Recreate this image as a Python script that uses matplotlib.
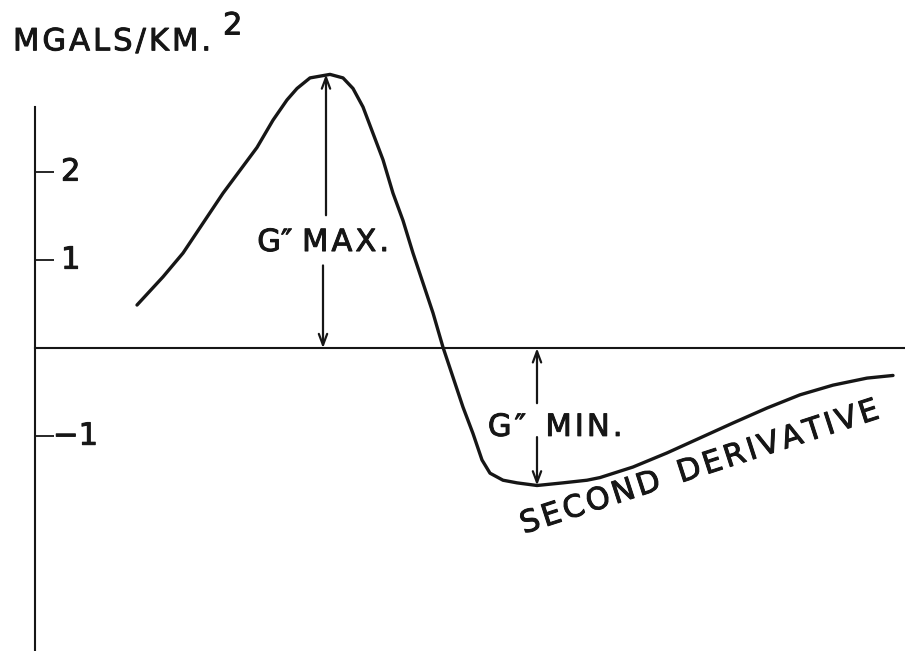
import numpy as np
import matplotlib.pyplot as plt
import matplotlib.patheffects as pe

# distance along the profile (arbitrary units) and second derivative (mgals/km^2)
dist = [1.02, 1.28, 1.48, 1.68, 1.88, 2.05, 2.22, 2.38, 2.52, 2.62, 2.75, 2.95,
        3.08, 3.18, 3.28, 3.38, 3.48, 3.58, 3.68, 3.78, 3.88, 3.98, 4.08, 4.18,
        4.28, 4.38, 4.47, 4.55, 4.68, 4.82, 5.02, 5.28, 5.52, 5.65, 5.98, 6.32,
        6.65, 6.98, 7.32, 7.65, 7.98, 8.32, 8.58]
g2 = [0.49, 0.81, 1.08, 1.42, 1.76, 2.02, 2.28, 2.59, 2.82, 2.95, 3.07, 3.11,
      3.07, 2.95, 2.74, 2.44, 2.14, 1.76, 1.45, 1.08, 0.74, 0.40, 0.01, -0.33,
      -0.67, -0.97, -1.27, -1.42, -1.50, -1.53, -1.56, -1.53, -1.50, -1.47, -1.35, -1.19,
      -1.02, -0.85, -0.68, -0.53, -0.42, -0.34, -0.31]

tick_vals = [2, 1, -1]
tick_text = ['2', '1', '\u22121']

ink = '#161616'
# slightly thickened strokes, like pen lettering
lettering = dict(fontsize=22, color=ink, family='DejaVu Sans',
                 path_effects=[pe.withStroke(linewidth=0.7, foreground=ink)])


def spaced(s, gap='\u200a'):
    # open up the letters a little, like hand lettering
    return '  '.join(gap.join(w) for w in s.split(' '))


fig = plt.figure(figsize=(9.05, 6.51), dpi=100)
ax = fig.add_axes([0, 0, 1, 1])
ax.set_xlim(-0.35, 8.70)
ax.set_ylim(-3.44, 3.955)

# axes drawn through the origin
for side in ['top', 'right']:
    ax.spines[side].set_visible(False)
ax.spines['left'].set_position(('data', 0))
ax.spines['left'].set_bounds(-3.44, 2.74)
ax.spines['bottom'].set_position(('data', 0))
ax.spines['bottom'].set_bounds(0, 8.70)
for side in ['left', 'bottom']:
    ax.spines[side].set_linewidth(1.5)
    ax.spines[side].set_color(ink)

ax.set_xticks([])
ax.set_yticks(tick_vals)
ax.tick_params(axis='y', direction='in', length=14, width=1.3, color=ink, labelleft=False)
for v, t in zip(tick_vals, tick_text):
    ax.text(0.18 if v < 0 else 0.26, v, t, ha='left', va='center', **lettering)

# the curve
ax.plot(dist, g2, color=ink, lw=2.4, solid_capstyle='round', solid_joinstyle='round')

# units label
ax.text(-0.22, 3.48, spaced('MGALS/KM.'), ha='left', va='center', **lettering)
ax.text(1.88, 3.66, '2', ha='left', va='center', **lettering)

arrow = dict(arrowstyle='->,head_length=0.8,head_width=0.3', lw=1.6, color=ink,
             shrinkA=0, shrinkB=0)

# G'' max arrows
i_max = int(np.argmax(g2))
x_max = dist[i_max] - 0.04
ax.annotate('', xy=(x_max, g2[i_max]), xytext=(x_max, 1.51), arrowprops=arrow)
ax.annotate('', xy=(x_max - 0.03, 0), xytext=(x_max - 0.03, 0.94), arrowprops=arrow)
ax.text(2.88, 1.20, 'G\u2033 ' + spaced('MAX.'), ha='center', va='center', **lettering)

# G'' min arrows
i_min = int(np.argmin(g2))
x_min = dist[i_min]
ax.annotate('', xy=(x_min, 0), xytext=(x_min, -0.625), arrowprops=arrow)
ax.annotate('', xy=(x_min, g2[i_min]), xytext=(x_min, -1.01), arrowprops=arrow)
ax.text(5.20, -0.90, spaced('G\u2033 MIN.'), ha='center', va='center', **lettering)

ax.text(6.64, -1.36, spaced('SECOND DERIVATIVE'), rotation=18, rotation_mode='anchor',
        ha='center', va='center', **lettering)

fig.savefig('out.png', dpi=100)
